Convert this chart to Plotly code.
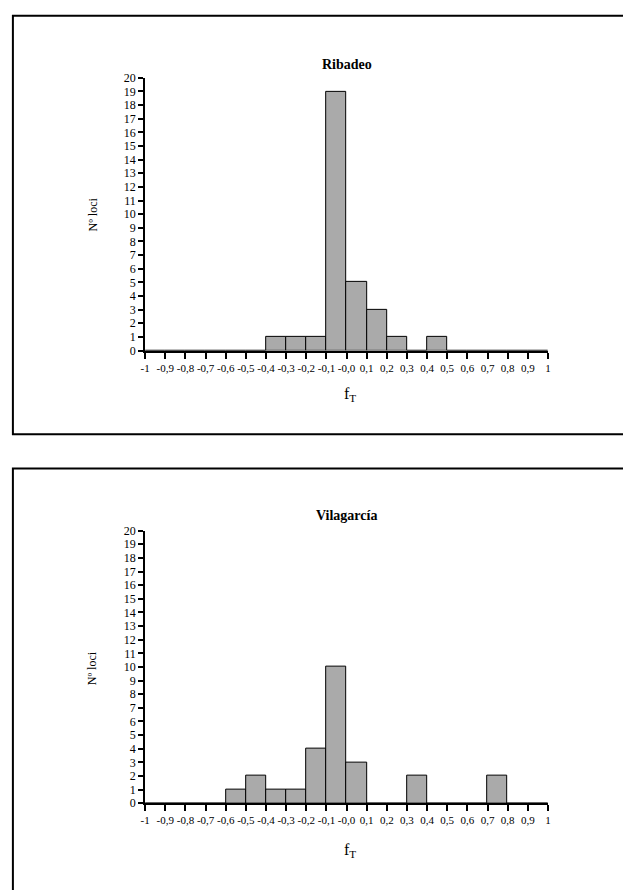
import plotly.graph_objects as go

bin_centers = [round(-0.95 + 0.1 * i, 2) for i in range(20)]
ribadeo_counts = [0, 0, 0, 0, 0, 0, 1, 1, 1, 19, 5, 3, 1, 0, 1, 0, 0, 0, 0, 0]
vilagarcia_counts = [0, 0, 0, 0, 1, 2, 1, 1, 4, 10, 3, 0, 0, 2, 0, 0, 0, 2, 0, 0]
x_tick_vals = [round(-1 + 0.1 * i, 1) for i in range(21)]
x_tick_text = ["-1", "-0,9", "-0,8", "-0,7", "-0,6", "-0,5", "-0,4", "-0,3", "-0,2", "-0,1",
               "-0,0", "0,1", "0,2", "0,3", "0,4", "0,5", "0,6", "0,7", "0,8", "0,9", "1"]
y_tick_vals = list(range(0, 21))
titles = ["Ribadeo", "Vilagarcía"]

W, H = 623, 890
def px(x): return x / W
def py(y): return 1 - y / H

FONT = "Liberation Serif"
BAR_COLOR = "#aaaaaa"

fig = go.Figure()
fig.add_trace(go.Bar(x=bin_centers, y=ribadeo_counts, width=0.1,
                     marker=dict(color=BAR_COLOR, line=dict(color="black", width=1)),
                     xaxis="x", yaxis="y", showlegend=False))
fig.add_trace(go.Bar(x=bin_centers, y=vilagarcia_counts, width=0.1,
                     marker=dict(color=BAR_COLOR, line=dict(color="black", width=1)),
                     xaxis="x2", yaxis="y2", showlegend=False))

xdom = [px(142), px(550)]
ydom1 = [py(349), py(72)]
ydom2 = [py(809), py(532)]

xaxis_common = dict(range=[-1, 1], tickvals=x_tick_vals, ticktext=x_tick_text,
                    showgrid=False, zeroline=False, showline=True, linecolor="black",
                    linewidth=2, ticks="outside", ticklen=6, tickwidth=2, tickcolor="black",
                    tickfont=dict(family=FONT, size=11, color="black"), tickangle=0)
yaxis_common = dict(range=[0, 20], tickvals=y_tick_vals, showgrid=False, zeroline=False,
                    showline=True, linecolor="black", linewidth=2, ticks="outside",
                    ticklen=5, tickwidth=2, tickcolor="black",
                    tickfont=dict(family=FONT, size=12, color="black"))

fig.update_layout(
    width=W, height=H,
    margin=dict(l=0, r=0, t=0, b=0),
    paper_bgcolor="white", plot_bgcolor="white",
    bargap=0,
    xaxis=dict(domain=xdom, anchor="y", **xaxis_common),
    yaxis=dict(domain=ydom1, anchor="x", **yaxis_common),
    xaxis2=dict(domain=xdom, anchor="y2", **xaxis_common),
    yaxis2=dict(domain=ydom2, anchor="x2", **yaxis_common),
    font=dict(family=FONT, color="black"),
)

shapes = [
    dict(type="rect", xref="paper", yref="paper", x0=px(8), x1=px(640), y0=py(434), y1=py(9),
         line=dict(color="black", width=2), fillcolor="rgba(0,0,0,0)", layer="below"),
    dict(type="rect", xref="paper", yref="paper", x0=px(8), x1=px(640), y0=py(910), y1=py(469),
         line=dict(color="black", width=2), fillcolor="rgba(0,0,0,0)", layer="below"),
]
fig.update_layout(shapes=shapes)

annotations = []
for title, ty, ylab_y, fy in [(titles[0], 58, 211, 394), (titles[1], 517, 672, 857)]:
    annotations.append(dict(text="<b>" + title + "</b>", x=px(346), y=py(ty), xref="paper", yref="paper",
                            showarrow=False, xanchor="center", yanchor="middle",
                            font=dict(family=FONT, size=14, color="black")))
    annotations.append(dict(text="Nº loci", x=px(89), y=py(ylab_y), xref="paper", yref="paper",
                            showarrow=False, xanchor="center", yanchor="middle", textangle=-90,
                            font=dict(family=FONT, size=12, color="black")))
    annotations.append(dict(text="f<sub>T</sub>", x=px(349), y=py(fy), xref="paper", yref="paper",
                            showarrow=False, xanchor="center", yanchor="middle",
                            font=dict(family=FONT, size=16, color="black")))
fig.update_layout(annotations=annotations)

fig.write_html("out.html", config={"displayModeBar": False},
               post_script="document.body.style.margin='0';document.body.style.overflow='hidden';")
